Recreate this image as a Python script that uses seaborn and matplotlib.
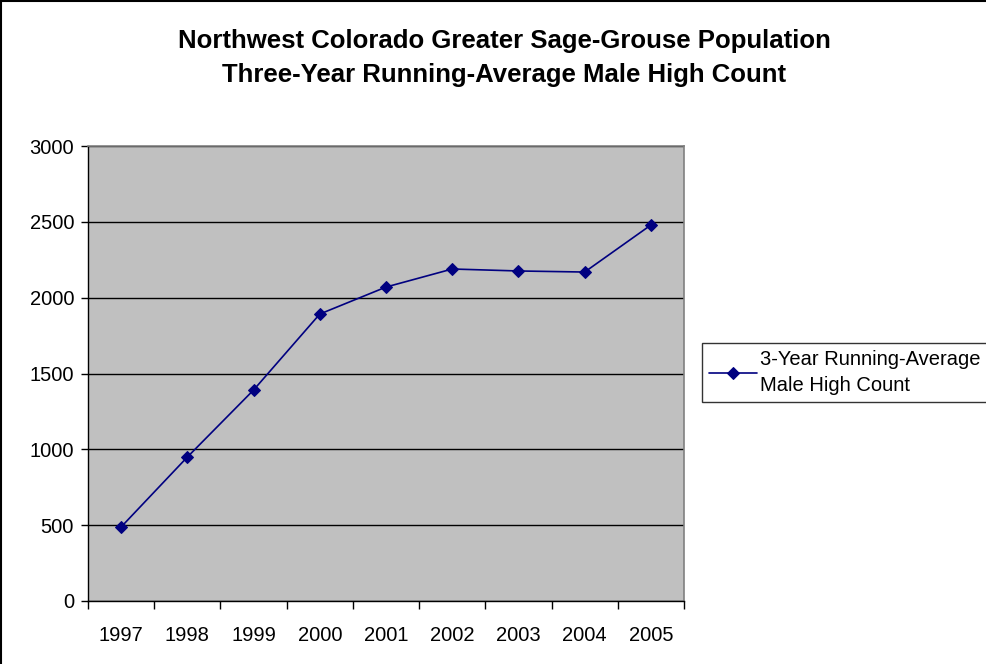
import numpy as np
import pandas as pd
import matplotlib
matplotlib.use('Agg')
import matplotlib.pyplot as plt
import seaborn as sns
from matplotlib.patches import Rectangle

# Three-year running average male high count
years = [1997, 1998, 1999, 2000, 2001, 2002, 2003, 2004, 2005]
male_high_count = [488, 949, 1391, 1892, 2070, 2189, 2176, 2169, 2479]
series_label = '3-Year Running-Average\nMale High Count'
title_lines = ['Northwest Colorado Greater Sage-Grouse Population',
               'Three-Year Running-Average Male High Count']

df = pd.DataFrame({'year': years, 'count': male_high_count})

sns.set_style('white')
plt.rcParams['font.family'] = ['Liberation Sans', 'DejaVu Sans']
plt.rcParams['text.color'] = 'black'
plt.rcParams['xtick.color'] = 'black'
plt.rcParams['ytick.color'] = 'black'

fig = plt.figure(figsize=(9.87, 6.64), dpi=100)
ax = fig.add_axes([88 / 987, 1 - 601 / 664, (684 - 88) / 987, (601 - 146) / 664])
ax.set_facecolor('#C0C0C0')

sns.lineplot(data=df, x='year', y='count', ax=ax, color='#000080', marker='D',
             markersize=6.5, markeredgecolor='#000080', linewidth=1.2, label=series_label)

ax.set_xlim(years[0] - 0.5, years[-1] + 0.5)
ax.set_ylim(0, 3000)
ax.set_yticks(np.arange(0, 3001, 500))
ax.yaxis.grid(True, color='black', linewidth=1)
ax.set_axisbelow(True)

# category ticks between years, labels centred on years
ax.set_xticks(np.arange(years[0] - 0.5, years[-1] + 1, 1.0))
ax.set_xticklabels([])
ax.set_xticks(years, minor=True)
ax.set_xticklabels([str(y) for y in years], minor=True, fontsize=14.5)
ax.tick_params(axis='x', which='major', bottom=True, length=6, width=1, color='black', direction='out')
ax.tick_params(axis='x', which='minor', bottom=True, length=0, pad=18)
ax.tick_params(axis='y', left=True, length=5, width=1, color='black', direction='out', labelsize=14.5, pad=5)
ax.set_xlabel('')
ax.set_ylabel('')

for side in ['top', 'right']:
    ax.spines[side].set_color('#808080')
    ax.spines[side].set_linewidth(1.2)
for side in ['left', 'bottom']:
    ax.spines[side].set_color('black')
    ax.spines[side].set_linewidth(1)

leg = ax.legend(loc='upper left', bbox_to_anchor=(702 / 987, 1 - 343 / 664),
                bbox_transform=fig.transFigure, frameon=True, fancybox=False,
                fontsize=14.5, handlelength=2.4, borderpad=0.35, handletextpad=0.15,
                borderaxespad=0, labelspacing=0.2)
leg.get_frame().set_edgecolor('black')
leg.get_frame().set_linewidth(1)
for t in leg.get_texts():
    t.set_linespacing(1.45)

fig.text(504 / 987, 1 - 41 / 664, title_lines[0], ha='center', va='center',
         fontsize=18.5, fontweight='bold')
fig.text(504 / 987, 1 - 75 / 664, title_lines[1], ha='center', va='center',
         fontsize=18.5, fontweight='bold')

# outer chart frame (cropped on right and bottom)
fig.patches.append(Rectangle((1 / 987, 0 - 0.01), 1.05, 1 - 1 / 664 + 0.01, transform=fig.transFigure,
                             fill=False, edgecolor='black', linewidth=1.5))

fig.savefig('out.png', dpi=100)
